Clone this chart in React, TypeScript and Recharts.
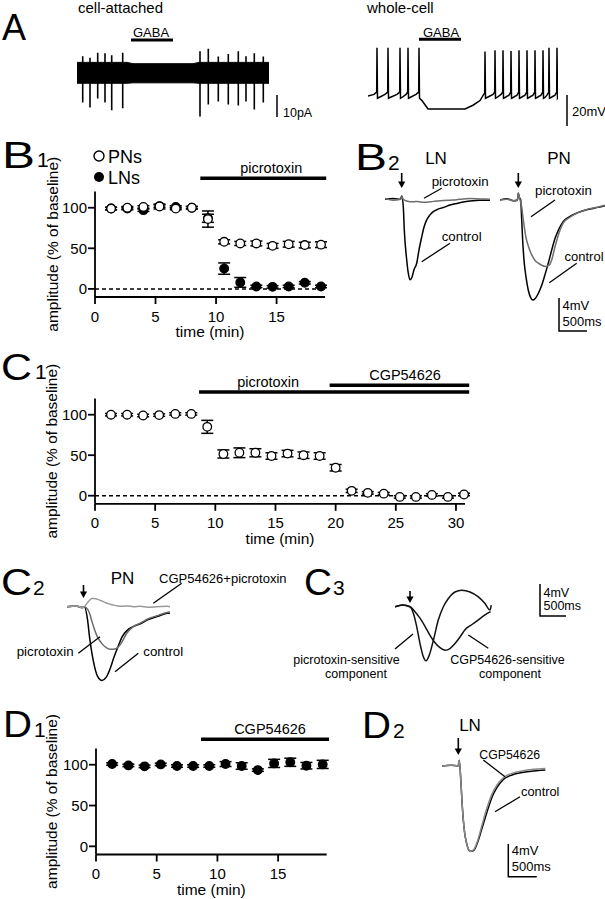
import React from 'react';
import {
  ScatterChart, Scatter, XAxis, YAxis, ErrorBar, ReferenceLine,
  LineChart, Line, ComposedChart, Area,
} from 'recharts';

const FONT = '"Liberation Sans", Arial, Helvetica, sans-serif';

type Pt = [number, number];

// ---------- B1: PNs / LNs during picrotoxin (time in min, % of baseline)
const b1Time = [1.33, 2.67, 4, 5.33, 6.67, 8, 9.33, 10.67, 12, 13.33, 14.67, 16, 17.33, 18.67];
const b1PN = [99, 100, 101, 101.5, 99, 100, 86, 58, 56, 56, 53, 55, 54, 54.5];
const b1PNErr = [1.5, 1.5, 1.5, 3, 1.5, 1.5, 10, 2.5, 2.5, 3, 3, 3.5, 3.5, 3.5];
const b1LN = [99, 99, 97, 102, 101, 100, 87, 25, 8, 3, 2.5, 3, 7.5, 3];
const b1LNErr = [1.5, 1.5, 1.5, 1.5, 1.5, 1.5, 5, 7, 6, 1.5, 1.5, 1.5, 1.5, 1.5];

// ---------- C1: PNs, picrotoxin then CGP54626
const c1Time = [1.33, 2.67, 4, 5.33, 6.67, 8, 9.33, 10.67, 12, 13.33, 14.67, 16, 17.33, 18.67,
  20, 21.33, 22.67, 24, 25.33, 26.67, 28, 29.33, 30.67];
const c1PN = [100, 100, 99, 99.5, 101, 101, 85, 51.5, 53, 53, 49, 52, 50, 49,
  34.5, 6, 3.5, 2.5, -1.5, -1.5, 1, -1.5, 1.5];
const c1PNErr = [1.5, 1.5, 1.5, 1.5, 1.5, 1.5, 8, 5, 6, 5, 4, 4, 4, 4,
  4, 2, 1.5, 1.5, 1.5, 1.5, 1.5, 1.5, 1.5];

// ---------- D1: LNs, CGP54626
const d1Time = [1.33, 2.67, 4, 5.33, 6.67, 8, 9.33, 10.67, 12, 13.33, 14.67, 16, 17.33, 18.67];
const d1LN = [100.8, 99.2, 98, 100.4, 98.4, 98.4, 98.4, 100.8, 98.4, 93.4, 101.6, 103, 98.8, 100.4];
const d1LNErr = [1.5, 1.5, 1.5, 1.5, 1.5, 1.5, 1.5, 3, 4, 1.5, 5, 5, 4, 5];

// ---------- A: cell-attached (s, pA)
const caBandT = [0, 5.0, 5.6, 11.6, 12.2, 19.2];
const caBandLo = [-4.7, -4.7, -4.5, -4.5, -4.7, -4.7];
const caBandHi = [4.8, 4.8, 4.2, 4.2, 4.8, 4.8];
const caSpikeT = [0.57, 1.3, 2.07, 2.8, 3.47, 4.57, 12.3, 13.13, 14.13, 15.13, 16.13, 16.9, 17.73, 18.63];
const caSpikeDown = [13.4, 15.7, 11.6, 13.4, 17, 16.1, 19.8, 14.3, 13, 14.3, 14.8, 13, 16.6, 13.4];
const caSpikeUp = [7.6, 6.9, 9.2, 8.9, 8, 9.2, 9.9, 11, 7.5, 8.6, 9.9, 7.6, 8.9, 7.5];

// ---------- A: whole-cell (s, mV)
const wholeCell: Pt[] = [
  [0, -50], [0.6, -49], [0.87, -47.5], [0.9, -19], [0.95, -51.5], [1.1, -51],
  [1.7, -49], [1.97, -47.5], [2.0, -19], [2.05, -51.5], [2.2, -51],
  [2.9, -49], [3.17, -47.5], [3.2, -19], [3.25, -51.5], [3.4, -51],
  [3.8, -49], [3.97, -47.5], [4.0, -19], [4.05, -51.5], [4.2, -51],
  [4.8, -49], [5.07, -47.5], [5.1, -19], [5.15, -51.5], [5.4, -53], [6.0, -58.4],
  [9.7, -58.4], [10.5, -56], [11.2, -53], [11.67, -48], [11.7, -21.4], [11.75, -51.5], [11.9, -51],
  [12.5, -49], [12.67, -47.5], [12.7, -20.5], [12.75, -51.5], [12.9, -51],
  [13.3, -49], [13.47, -47.5], [13.5, -20.5], [13.55, -51.5], [13.7, -51],
  [14.1, -49.5], [14.27, -47.5], [14.3, -21], [14.35, -51.5], [14.5, -51],
  [14.9, -49.5], [15.07, -47.5], [15.1, -20.5], [15.15, -51.5], [15.3, -51],
  [15.7, -49.5], [15.87, -47.5], [15.9, -20.5], [15.95, -51.5], [16.1, -51],
  [16.5, -49.5], [16.67, -47.5], [16.7, -20.5], [16.75, -51.5], [16.9, -51],
  [17.3, -49.5], [17.47, -47.5], [17.5, -20.5], [17.55, -51.5], [17.7, -51],
  [17.9, -49.5], [18.07, -47.5], [18.1, -19], [18.15, -51.5], [18.3, -51],
  [18.7, -49.5], [18.87, -47.5], [18.9, -19], [18.95, -51.5], [19.0, -51],
];

// ---------- B2 traces (ms from stimulus, mV from baseline)
const b2LnControl: Pt[] = [
  [-294, 0], [-150, 0.1], [-20, 0], [0, 0.4], [28, -0.9], [46, -3.8], [88, -7.4], [116, -9.0],
  [146, -9.8], [181, -9.5], [216, -8.6], [264, -7.8], [304, -6.2], [352, -4.6], [392, -3.4],
  [440, -2.5], [498, -1.9], [556, -1.5], [639, -1.2], [732, -1.0], [850, -0.7], [968, -0.5],
  [1079, -0.33], [1202, -0.2], [1378, -0.1], [1554, -0.1],
];
const b2LnPicro: Pt[] = [
  [-294, 0.1], [-150, -0.1], [-20, 0], [0, 0.4], [28, 0], [88, -0.2], [146, -0.3], [216, -0.3],
  [264, -0.25], [352, -0.35], [440, -0.35], [556, -0.25], [639, -0.2], [732, -0.15], [850, -0.1],
  [968, -0.05], [1079, 0.05], [1202, 0.1], [1378, 0.05], [1554, 0],
];
const b2PnControl: Pt[] = [
  [-322, 0], [-200, 0.15], [-80, -0.1], [-15, 0], [0, 0.8], [20, 0.3], [42, 0], [60, -2.4],
  [77, -4.9], [100, -7.3], [136, -9.4], [176, -11.0], [218, -11.9], [253, -12.2], [299, -12.0],
  [352, -11.4], [412, -10.4], [470, -9.1], [528, -7.7], [588, -6.1], [646, -4.7], [704, -3.7],
  [792, -2.6], [910, -2.0], [1028, -1.6], [1144, -1.3], [1262, -1.1], [1408, -0.9], [1526, -0.7],
];
const b2PnPicro: Pt[] = [
  [-322, 0], [-200, 0.1], [-80, -0.1], [-15, 0], [0, 0.9], [20, 0.3], [42, -0.3], [60, -0.8],
  [77, -1.8], [100, -3.0], [136, -4.6], [176, -5.6], [218, -6.4], [253, -6.9], [299, -7.4],
  [352, -7.7], [412, -7.95], [470, -8.1], [528, -8.0], [588, -7.3], [646, -5.7], [704, -4.3],
  [792, -2.8], [910, -2.1], [1028, -1.6], [1144, -1.3], [1262, -1.05], [1408, -0.85], [1526, -0.65],
];

// ---------- C2 traces
const c2Control: Pt[] = [
  [-304, 0], [-150, 0.1], [-30, -0.1], [0, 0], [58, -1.6], [93, -3.7], [135, -5.7], [181, -7.3],
  [234, -8.5], [311, -9.0], [387, -8.6], [458, -7.5], [516, -6.3], [587, -5.0], [663, -3.7],
  [751, -2.9], [868, -2.4], [986, -2.1], [1115, -1.6], [1280, -1.2], [1456, -0.8], [1514, -0.75],
];
const c2Picro: Pt[] = [
  [-304, 0], [-150, 0.1], [-30, -0.1], [0, 0], [58, -0.3], [93, -0.8], [135, -1.8], [181, -2.8],
  [234, -3.7], [311, -4.5], [387, -5.0], [458, -5.2], [516, -5.2], [587, -5.0], [663, -4.3],
  [751, -3.2], [868, -2.4], [986, -2.0], [1115, -1.5], [1280, -1.1], [1456, -0.7], [1514, -0.65],
];
const c2CgpPicro: Pt[] = [
  [-304, 0], [-150, 0.1], [-30, -0.1], [0, 0], [58, 0.5], [93, 0.8], [135, 1.0], [181, 1.0],
  [234, 0.9], [311, 0.7], [387, 0.45], [458, 0.3], [516, 0.2], [587, 0.1], [663, 0.05],
  [751, 0.1], [868, 0], [986, 0.05], [1115, -0.05], [1280, 0], [1456, 0.05], [1514, 0],
];

// ---------- C3 traces (subtracted components)
const c3PicroSensitive: Pt[] = [
  [-264, 0], [-130, 0.2], [0, 0], [59, -0.8], [117, -2.4], [176, -4.5], [235, -6.1], [282, -6.6],
  [340, -5.9], [411, -4.1], [499, -1.6], [587, 0], [675, 1.0], [792, 1.8], [909, 2.0], [1056, 1.8],
  [1203, 1.2], [1320, 0.4], [1408, -0.4], [1430, 0.2],
];
const c3CgpSensitive: Pt[] = [
  [-264, 0], [-130, 0.2], [0, 0], [88, -0.6], [176, -1.4], [264, -2.4], [352, -3.5], [440, -4.4],
  [528, -5.0], [616, -5.3], [704, -5.1], [792, -4.5], [880, -3.7], [968, -2.8], [1085, -2.2],
  [1203, -1.6], [1320, -1.0], [1418, -0.6],
];

// ---------- D2 traces
const d2Control: Pt[] = [
  [-304, 0], [-150, 0.1], [-20, 0], [0, 0.7], [30, -2.1], [53, -4.9], [88, -7.8], [135, -9.6],
  [194, -10.4], [253, -10.3], [323, -9.3], [400, -7.6], [488, -5.6], [576, -3.8], [664, -2.6],
  [781, -1.6], [928, -1.1], [1104, -0.8], [1308, -0.6], [1514, -0.5],
];
const d2Cgp: Pt[] = [
  [-304, 0], [-150, 0.1], [-20, 0], [0, 0.7], [30, -2.1], [53, -4.9], [88, -7.8], [135, -9.6],
  [194, -10.4], [253, -10.2], [323, -9.1], [400, -7.2], [488, -5.1], [576, -3.4], [664, -2.3],
  [781, -1.4], [928, -0.9], [1104, -0.6], [1308, -0.4], [1514, -0.3],
];

const rows = (pts: Pt[]) => pts.map(([t, v]) => ({ t, v }));
const tc = (time: number[], vals: number[], errs: number[]) =>
  time.map((t, i) => ({ t, v: vals[i], err: errs[i] }));

interface TcSeries { name: string; data: { t: number; v: number; err: number }[]; filled: boolean }
interface Treatment { name: string; from: number; to: number; level: number; dx: number }

function TimeCourse(props: {
  left: number; top: number; width: number; plotTop: number; plotH: number; plotLeft: number;
  right: number; xMax: number; xTicks: number[]; xAxisH: number; zeroLine: boolean;
  series: TcSeries[]; treatments: Treatment[];
}) {
  const { left, top, width, plotTop, plotH, plotLeft, right, xMax, xTicks, xAxisH, zeroLine, series, treatments } = props;
  const height = plotTop + plotH + xAxisH;
  const axisStyle = { stroke: '#000', strokeWidth: 1.8 };
  return (
    <div style={{ position: 'absolute', left, top }}>
      <ScatterChart width={width} height={height} margin={{ top: plotTop, right, bottom: 0, left: 0 }}
        style={{ fontFamily: FONT }}>
        <XAxis type="number" dataKey="t" domain={[0, xMax]} ticks={xTicks} height={xAxisH}
          axisLine={axisStyle} tickLine={axisStyle} tickSize={7} tickMargin={7}
          tick={{ fontSize: 15, fill: '#000', fontFamily: FONT }}
          label={{ value: 'time (min)', position: 'insideBottom', offset: xAxisH - 40, fontSize: 15.5, fill: '#000', fontFamily: FONT }} />
        <YAxis type="number" dataKey="v" domain={[-10, 120]} ticks={[0, 50, 100]} width={plotLeft}
          axisLine={axisStyle} tickLine={axisStyle} tickSize={7} tickMargin={1}
          tick={{ fontSize: 15, fill: '#000', fontFamily: FONT }}
          label={{ value: 'amplitude (% of baseline)', angle: -90, position: 'center', dx: 52 - plotLeft / 2, fontSize: 15.5, fill: '#000', fontFamily: FONT }} />
        {zeroLine && <ReferenceLine y={0} stroke="#000" strokeWidth={1.5} strokeDasharray="4 3" />}
        {treatments.map((tr) => (
          <ReferenceLine key={tr.name} segment={[{ x: tr.from, y: tr.level }, { x: tr.to, y: tr.level }]}
            ifOverflow="visible" stroke="#000" strokeWidth={3.5}
            label={{ value: tr.name, position: 'top', offset: 5, dx: tr.dx, fontSize: 14.5, fill: '#000', fontFamily: FONT }} />
        ))}
        {series.map((s) => (
          <Scatter key={s.name} name={s.name} data={s.data} isAnimationActive={false}
            shape={(p: any) => (
              <circle cx={p.cx} cy={p.cy} r={4.3} fill={s.filled ? '#000' : '#fff'} stroke="#000" strokeWidth={1.3} />
            )}>
            <ErrorBar dataKey="err" direction="y" width={6} stroke="#000" strokeWidth={1.5} isAnimationActive={false} />
          </Scatter>
        ))}
      </ScatterChart>
    </div>
  );
}

interface TraceLine { pts: Pt[]; color: string; w?: number }

function Trace(props: {
  left: number; top: number; width: number; height: number;
  xDomain: [number, number]; yDomain: [number, number]; lines: TraceLine[]; curve?: 'monotoneX' | 'linear';
}) {
  const { left, top, width, height, xDomain, yDomain, lines, curve = 'monotoneX' } = props;
  return (
    <div style={{ position: 'absolute', left, top }}>
      <LineChart width={width} height={height} margin={{ top: 0, right: 0, bottom: 0, left: 0 }}>
        <XAxis type="number" dataKey="t" domain={xDomain} hide />
        <YAxis type="number" domain={yDomain} hide />
        {lines.map((l, i) => (
          <Line key={i} data={rows(l.pts)} dataKey="v" type={curve} stroke={l.color}
            strokeWidth={l.w ?? 1.5} dot={false} activeDot={false} isAnimationActive={false} />
        ))}
      </LineChart>
    </div>
  );
}

function CellAttached() {
  const band = caBandT.map((t, i) => ({ t, range: [caBandLo[i], caBandHi[i]] }));
  const spikes = caSpikeT.flatMap((t, i) => [
    { t, v: 0 }, { t, v: -caSpikeDown[i] }, { t, v: caSpikeUp[i] }, { t, v: 0 },
  ]);
  return (
    <div style={{ position: 'absolute', left: 77, top: 45 }}>
      <ComposedChart width={192} height={75} data={band} margin={{ top: 0, right: 0, bottom: 0, left: 0 }}>
        <XAxis type="number" dataKey="t" domain={[0, 19.2]} hide />
        <YAxis type="number" domain={[-21.4, 12.7]} hide />
        <Area dataKey="range" type="linear" stroke="#000" strokeWidth={1} fill="#000" fillOpacity={1} isAnimationActive={false} />
        <Line data={spikes} dataKey="v" type="linear" stroke="#000" strokeWidth={1.6} dot={false} activeDot={false} isAnimationActive={false} />
      </ComposedChart>
    </div>
  );
}

function T({ x, y, s, a = 'start', w, children }: { x: number; y: number; s: number; a?: 'start' | 'middle' | 'end'; w?: number; children: React.ReactNode }) {
  return (
    <text x={x} y={y} fontSize={s} textAnchor={a} fill="#000" fontFamily={FONT}
      {...(w ? { textLength: w, lengthAdjust: 'spacingAndGlyphs' } : {})}>{children}</text>
  );
}

function Seg({ x1, y1, x2, y2, w = 1.3 }: { x1: number; y1: number; x2: number; y2: number; w?: number }) {
  return <line x1={x1} y1={y1} x2={x2} y2={y2} stroke="#000" strokeWidth={w} />;
}

function Arrow({ x, y1, y2 }: { x: number; y1: number; y2: number }) {
  return (
    <g>
      <line x1={x} y1={y1} x2={x} y2={y2 - 5} stroke="#000" strokeWidth={1.6} />
      <polygon points={`${x - 3.6},${y2 - 6.5} ${x + 3.6},${y2 - 6.5} ${x},${y2}`} fill="#000" />
    </g>
  );
}

function ScaleBar({ x, top, bottom, right, y1, y2, s = 13 }: { x: number; top: number; bottom: number; right: number; y1: number; y2: number; s?: number }) {
  return (
    <g>
      <polyline points={`${x},${top} ${x},${bottom} ${right},${bottom}`} fill="none" stroke="#000" strokeWidth={1.5} />
      <T x={x + 3.5} y={y1} s={s}>4mV</T>
      <T x={x + 3.5} y={y2} s={s}>500ms</T>
    </g>
  );
}

export default function App() {
  const b1Series: TcSeries[] = [
    { name: 'LNs', data: tc(b1Time, b1LN, b1LNErr), filled: true },
    { name: 'PNs', data: tc(b1Time, b1PN, b1PNErr), filled: false },
  ];
  const c1Series: TcSeries[] = [{ name: 'PNs', data: tc(c1Time, c1PN, c1PNErr), filled: false }];
  const d1Series: TcSeries[] = [{ name: 'LNs', data: tc(d1Time, d1LN, d1LNErr), filled: true }];

  return (
    <div style={{ position: 'absolute', left: 0, top: 0, width: 605, height: 899, background: '#fff', fontFamily: FONT, overflow: 'hidden' }}>
      {/* A */}
      <CellAttached />
      <Trace left={368} top={44} width={190} height={71} xDomain={[0, 19]} yDomain={[-62.3, -16.5]}
        curve="linear" lines={[{ pts: wholeCell, color: '#000', w: 1.5 }]} />

      {/* B1 */}
      <TimeCourse left={0} top={130} width={340} plotTop={61.5} plotH={105.5} plotLeft={95} right={15}
        xMax={19} xTicks={[0, 5, 10, 15]} xAxisH={45} series={b1Series} zeroLine
        treatments={[{ name: 'picrotoxin', from: 8.7, to: 19.1, level: 136.3, dx: 8 }]} />

      {/* B2 */}
      <Trace left={385} top={184} width={105} height={100} xDomain={[-294, 1554]} yDomain={[-10.33, 1.87]}
        lines={[{ pts: b2LnControl, color: '#000' }, { pts: b2LnPicro, color: '#6e6e6e' }]} />
      <Trace left={500} top={185} width={105} height={120} xDomain={[-322, 1526]} yDomain={[-12.8, 1.83]}
        lines={[{ pts: b2PnControl, color: '#000' }, { pts: b2PnPicro, color: '#6e6e6e' }]} />

      {/* C1 */}
      <TimeCourse left={0} top={340} width={480} plotTop={58.5} plotH={105.3} plotLeft={95} right={15}
        xMax={30.75} xTicks={[0, 5, 10, 15, 20, 25, 30]} xAxisH={45} series={c1Series} zeroLine
        treatments={[
          { name: 'picrotoxin', from: 8.65, to: 31.1, level: 128, dx: -66 },
          { name: 'CGP54626', from: 19.5, to: 31.1, level: 136.3, dx: 5.6 },
        ]} />

      {/* C2 */}
      <Trace left={66.7} top={595} width={103.3} height={90} xDomain={[-304, 1514]} yDomain={[-9.55, 1.43]}
        lines={[{ pts: c2Control, color: '#000' }, { pts: c2Picro, color: '#6a6a6a' }, { pts: c2CgpPicro, color: '#9a9a9a' }]} />

      {/* C3 */}
      <Trace left={395} top={585} width={97} height={80} xDomain={[-264, 1443]} yDomain={[-7.11, 2.65]}
        lines={[{ pts: c3CgpSensitive, color: '#111' }, { pts: c3PicroSensitive, color: '#111' }]} />

      {/* D1 */}
      <TimeCourse left={0} top={690} width={345} plotTop={58.4} plotH={106.1} plotLeft={96} right={18.3}
        xMax={19} xTicks={[0, 5, 10, 15]} xAxisH={44} series={d1Series} zeroLine={false}
        treatments={[{ name: 'CGP54626', from: 8.65, to: 19.19, level: 131.2, dx: 5 }]} />

      {/* D2 */}
      <Trace left={441.7} top={755} width={104} height={100} xDomain={[-304, 1526]} yDomain={[-10.85, 1.34]}
        lines={[{ pts: d2Control, color: '#000' }, { pts: d2Cgp, color: '#8a8a8a' }]} />

      <svg width={605} height={899} style={{ position: 'absolute', left: 0, top: 0, pointerEvents: 'none' }}>
        {/* panel letters */}
        <T x={2} y={40} s={36}>A</T>
        <T x={2} y={168} s={36} w={33}>B</T><T x={37} y={167} s={21}>1</T>
        <T x={355} y={170} s={36} w={32}>B</T><T x={388} y={170} s={21}>2</T>
        <T x={1} y={380} s={36} w={31}>C</T><T x={35} y={379} s={21}>1</T>
        <T x={1} y={595} s={36} w={31}>C</T><T x={33} y={595} s={21}>2</T>
        <T x={304} y={595} s={36} w={28}>C</T><T x={333} y={595} s={21}>3</T>
        <T x={3} y={737} s={36} w={29}>D</T><T x={34} y={737} s={21}>1</T>
        <T x={362} y={738} s={36} w={29}>D</T><T x={393} y={738} s={21}>2</T>

        {/* A */}
        <T x={78} y={13} s={15}>cell-attached</T>
        <T x={367} y={13} s={15}>whole-cell</T>
        <T x={133} y={36.5} s={13}>GABA</T>
        <Seg x1={131} y1={40} x2={173} y2={40} w={3} />
        <T x={423} y={36.5} s={13}>GABA</T>
        <Seg x1={419} y1={39.3} x2={461} y2={39.3} w={3} />
        <Seg x1={277} y1={95} x2={277} y2={117} w={1.5} />
        <T x={283} y={116.5} s={12.5}>10pA</T>
        <Seg x1={567} y1={95} x2={567} y2={126} w={1.5} />
        <T x={572} y={115.5} s={13}>20mV</T>

        {/* B1 legend */}
        <circle cx={99} cy={156} r={5} fill="#fff" stroke="#000" strokeWidth={1.4} />
        <T x={108} y={162.5} s={18}>PNs</T>
        <circle cx={99} cy={177} r={5} fill="#000" />
        <T x={108} y={183.5} s={18}>LNs</T>

        {/* B2 */}
        <T x={436} y={164} s={17} a="middle">LN</T>
        <T x={559} y={164} s={17} a="middle">PN</T>
        <Arrow x={401.7} y1={173} y2={188} />
        <Arrow x={518.3} y1={173} y2={188} />
        <T x={431.7} y={186} s={13.3}>picrotoxin</T>
        <Seg x1={424} y1={198.3} x2={441.7} y2={188.3} />
        <T x={441.7} y={241} s={13.3}>control</T>
        <Seg x1={421.7} y1={261.7} x2={450} y2={243.3} />
        <T x={535} y={195} s={13.3}>picrotoxin</T>
        <Seg x1={531} y1={216.7} x2={555} y2={200} />
        <T x={564.5} y={260.5} s={13}>control</T>
        <Seg x1={549.3} y1={282.7} x2={576.7} y2={263.3} />
        <ScaleBar x={559} top={298} bottom={331} right={587} y1={310} y2={326} />

        {/* C2 */}
        <T x={122.5} y={584} s={17} a="middle">PN</T>
        <T x={159} y={582.5} s={13}>CGP54626+picrotoxin</T>
        <Seg x1={153.3} y1={603.3} x2={181.7} y2={583.3} />
        <Arrow x={83.5} y1={585} y2={598} />
        <T x={16.7} y={656} s={13.3}>picrotoxin</T>
        <Seg x1={78.3} y1={653.3} x2={100} y2={636.7} />
        <T x={143.3} y={656} s={13.3}>control</T>
        <Seg x1={115} y1={671.7} x2={138.3} y2={653.3} />

        {/* C3 */}
        <Arrow x={410} y1={591} y2={603} />
        <T x={346.5} y={663.5} s={12.5} a="middle">picrotoxin-sensitive</T>
        <T x={356} y={677.5} s={12.5} a="middle">component</T>
        <Seg x1={395} y1={649} x2={413} y2={634} />
        <T x={507.5} y={663.5} s={12.5} a="middle">CGP54626-sensitive</T>
        <T x={510} y={677.5} s={12.5} a="middle">component</T>
        <Seg x1={468.3} y1={635} x2={488.3} y2={648.3} />
        <ScaleBar x={540} top={584} bottom={616} right={566} y1={596.5} y2={610} s={12.5} />

        {/* D2 */}
        <T x={470} y={731} s={17} a="middle">LN</T>
        <Arrow x={458.3} y1={738} y2={755} />
        <T x={479.3} y={759} s={12.3}>CGP54626</T>
        <Seg x1={483.3} y1={760} x2={505} y2={776.7} />
        <T x={521} y={796} s={12.8}>control</T>
        <Seg x1={495} y1={811.7} x2={520} y2={796.7} />
        <ScaleBar x={508.3} top={844} bottom={876.7} right={536.7} y1={855} y2={871} />
      </svg>
    </div>
  );
}
